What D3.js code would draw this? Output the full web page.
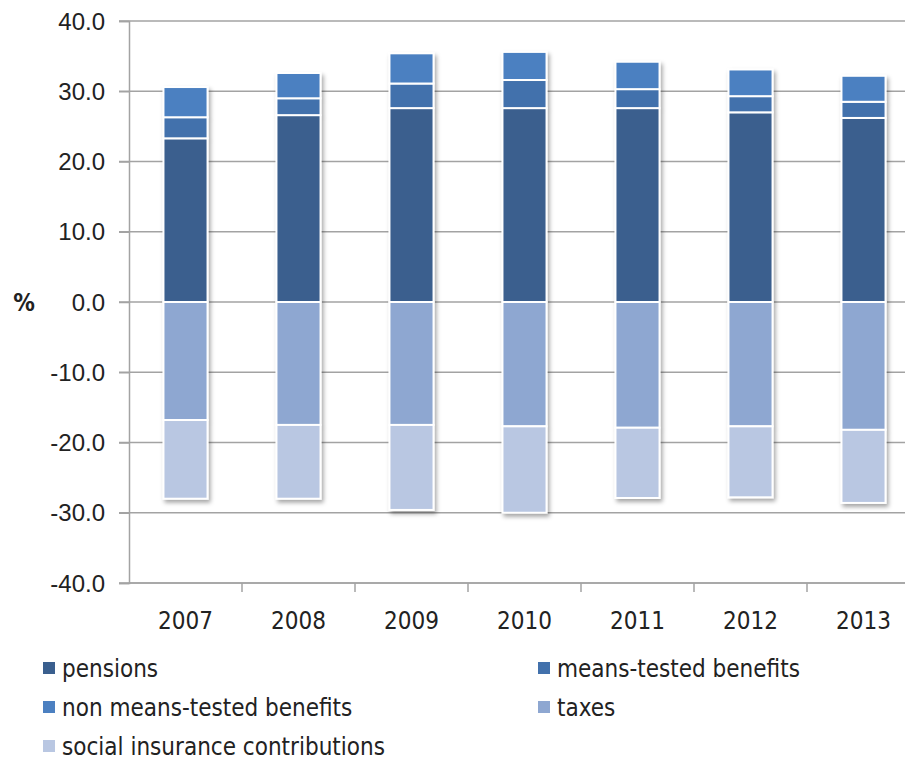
<!DOCTYPE html>
<html>
<head>
<meta charset="utf-8">
<script src="https://cdn.jsdelivr.net/npm/d3@7"></script>
<style>
  body { margin: 0; background: #fff; }
  svg { display: block; font-family: "Liberation Sans Narrow", "DejaVu Sans Condensed", "Open Sans", sans-serif; }
  .tick text { fill: #222; }
</style>
</head>
<body>
<div id="chart"></div>
<script>
// chart data
const years = ['2007', '2008', '2009', '2010', '2011', '2012', '2013'];
const pensions = [23.3, 26.6, 27.6, 27.6, 27.6, 27.0, 26.2];
const meansTested = [3.0, 2.4, 3.5, 4.0, 2.7, 2.3, 2.3];
const nonMeansTested = [4.3, 3.6, 4.3, 4.0, 3.9, 3.8, 3.7];
const taxes = [-16.8, -17.5, -17.5, -17.7, -17.9, -17.7, -18.2];
const socialContrib = [-11.2, -10.5, -12.1, -12.3, -10.0, -10.1, -10.4];
const seriesNames = ['pensions', 'means-tested benefits', 'non means-tested benefits',
  'taxes', 'social insurance contributions'];
const yTicks = [-40, -30, -20, -10, 0, 10, 20, 30, 40];

const colors = ['#3a5f8e', '#4271ac', '#4c80c1', '#8ea7d1', '#b9c7e2'];

const width = 905;
const height = 762;
const margin = { top: 21, left: 129, bottom: 180 };
const plotRight = margin.left + 7 * 113; // plot runs past the right edge
const fontSize = '24px';

const rows = years.map((year, i) => ({
  year,
  [seriesNames[0]]: pensions[i],
  [seriesNames[1]]: meansTested[i],
  [seriesNames[2]]: nonMeansTested[i],
  [seriesNames[3]]: taxes[i],
  [seriesNames[4]]: socialContrib[i],
}));

const stacked = d3.stack()
  .keys(seriesNames)
  .offset(d3.stackOffsetDiverging)(rows);

const x = d3.scaleBand()
  .domain(years)
  .range([margin.left, plotRight])
  .paddingInner(0.61)
  .paddingOuter(0.305);

const y = d3.scaleLinear()
  .domain([-40, 40])
  .range([height - margin.bottom + 1, margin.top]);

const svg = d3.select('#chart').append('svg')
  .attr('width', width)
  .attr('height', height);

const defs = svg.append('defs');
defs.append('filter')
  .attr('id', 'shadow')
  .attr('x', '-20%').attr('y', '-10%')
  .attr('width', '150%').attr('height', '130%')
  .append('feDropShadow')
  .attr('dx', 2)
  .attr('dy', 3)
  .attr('stdDeviation', 2)
  .attr('flood-color', '#000')
  .attr('flood-opacity', 0.35);

// gridlines
svg.append('g')
  .selectAll('line')
  .data(yTicks)
  .join('line')
  .attr('x1', margin.left - 10)
  .attr('x2', width)
  .attr('y1', (d) => y(d))
  .attr('y2', (d) => y(d))
  .attr('stroke', '#a3a3a3')
  .attr('stroke-width', 1.5);

// y axis
const yAxis = svg.append('g')
  .attr('transform', `translate(${margin.left},0)`)
  .call(d3.axisLeft(y)
    .tickValues(yTicks)
    .tickSize(10)
    .tickPadding(14)
    .tickFormat((d) => d3.format('.1f')(d).replace('\u2212', '-')));
yAxis.select('.domain').attr('stroke', '#a3a3a3').attr('stroke-width', 1.5);
yAxis.selectAll('.tick line').attr('stroke', '#a3a3a3').attr('stroke-width', 1.5);
yAxis.selectAll('.tick text')
  .style('font-size', fontSize)
  .attr('dy', '0.34em');

svg.append('text')
  .attr('x', 24)
  .attr('y', y(0))
  .attr('dy', '0.36em')
  .attr('text-anchor', 'middle')
  .style('font-size', '24px')
  .style('font-weight', 700)
  .attr('fill', '#222')
  .text('%');

// x axis along the bottom
const xAxis = svg.append('g')
  .attr('transform', `translate(0,${y(-40)})`);
xAxis.append('line')
  .attr('x1', margin.left)
  .attr('x2', width)
  .attr('stroke', '#a3a3a3')
  .attr('stroke-width', 1.5);
xAxis.selectAll('.cat-tick')
  .data(years.slice(1).concat(['end']))
  .join('line')
  .attr('class', 'cat-tick')
  .attr('x1', (d, i) => margin.left + (i + 1) * x.step())
  .attr('x2', (d, i) => margin.left + (i + 1) * x.step())
  .attr('y1', 0)
  .attr('y2', 9)
  .attr('stroke', '#a3a3a3')
  .attr('stroke-width', 1.5);
xAxis.selectAll('.cat-label')
  .data(years)
  .join('text')
  .attr('class', 'cat-label')
  .attr('x', (d) => x(d) + x.bandwidth() / 2)
  .attr('y', 46)
  .attr('text-anchor', 'middle')
  .attr('fill', '#222')
  .style('font-size', fontSize)
  .text((d) => d);

// bars, one group per year so the shadow falls round the whole column
const bars = svg.append('g')
  .selectAll('g')
  .data(years)
  .join('g')
  .attr('filter', 'url(#shadow)');

bars.selectAll('rect')
  .data((year, i) => stacked.map((s, k) => ({ k, seg: s[i] })))
  .join('rect')
  .attr('x', (d) => x(d.seg.data.year))
  .attr('width', x.bandwidth())
  .attr('y', (d) => y(Math.max(d.seg[0], d.seg[1])))
  .attr('height', (d) => Math.abs(y(d.seg[0]) - y(d.seg[1])))
  .attr('fill', (d) => colors[d.k])
  .attr('stroke', '#fff')
  .attr('stroke-width', 2);

// legend, two columns
const legend = svg.append('g')
  .selectAll('g')
  .data(seriesNames)
  .join('g')
  .attr('transform', (d, i) => `translate(${i % 2 === 0 ? 43 : 538},${668 + Math.floor(i / 2) * 39})`);

legend.append('rect')
  .attr('x', 0)
  .attr('y', -6)
  .attr('width', 12)
  .attr('height', 12)
  .attr('fill', (d, i) => colors[i]);

legend.append('text')
  .attr('x', 19)
  .attr('dy', '0.36em')
  .attr('fill', '#222')
  .style('font-size', fontSize)
  .text((d) => d);
</script>
</body>
</html>
